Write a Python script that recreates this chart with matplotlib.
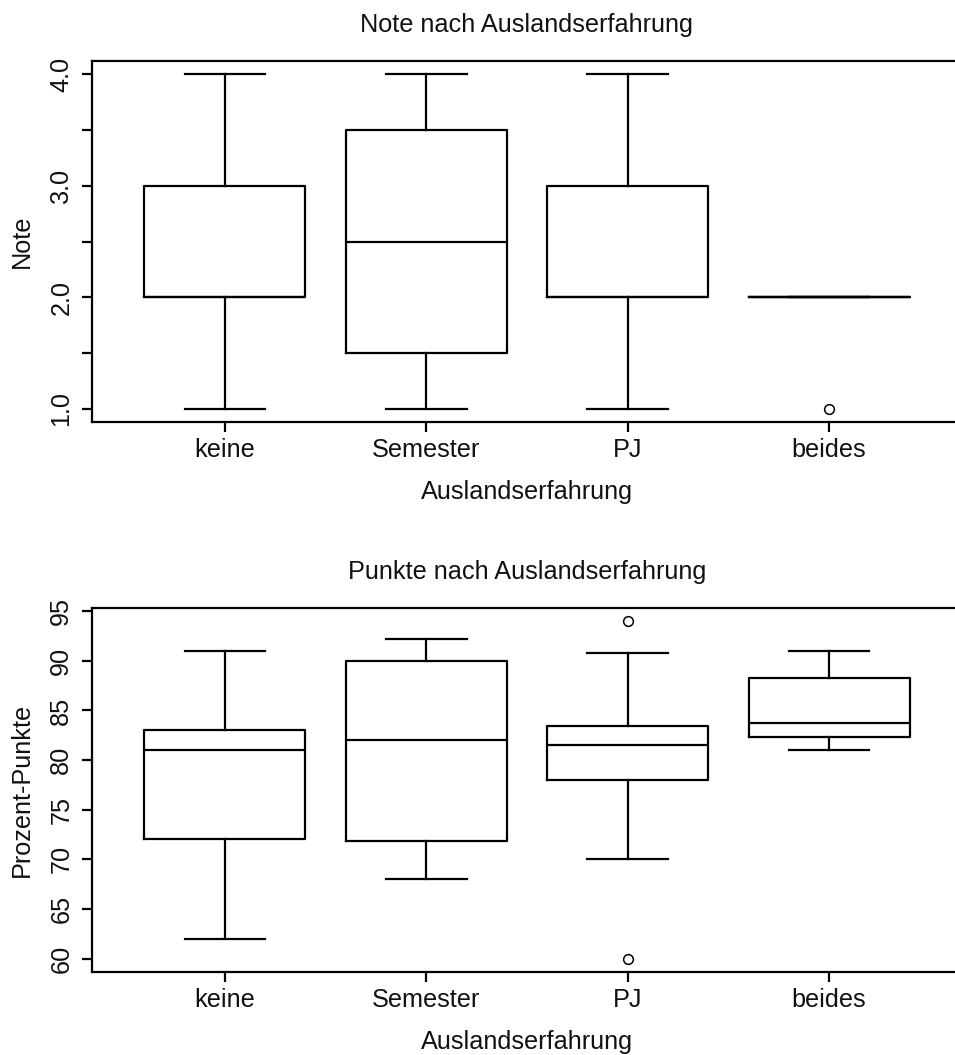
import matplotlib.pyplot as plt

plt.rcParams['font.family'] = ['Liberation Sans', 'DejaVu Sans']

groups = ['keine', 'Semester', 'PJ', 'beides']

# Note nach Auslandserfahrung (Schulnoten)
note_low = [1.0, 1.0, 1.0, 2.0]
note_q1 = [2.0, 1.5, 2.0, 2.0]
note_med = [2.0, 2.5, 2.0, 2.0]
note_q3 = [3.0, 3.5, 3.0, 2.0]
note_high = [4.0, 4.0, 4.0, 2.0]
note_out = [[], [], [], [1.0]]

# Punkte nach Auslandserfahrung (Prozent)
pkt_low = [62.0, 68.0, 70.0, 81.0]
pkt_q1 = [72.0, 71.8, 78.0, 82.3]
pkt_med = [81.0, 82.0, 81.5, 83.7]
pkt_q3 = [83.0, 90.0, 83.4, 88.3]
pkt_high = [91.0, 92.2, 90.8, 91.0]
pkt_out = [[], [], [94.0, 60.0], []]

TXT = '#111111'
FS = 18.2
LW = 1.6


def make_stats(lo, q1, med, q3, hi, out):
    return [dict(whislo=a, q1=b, med=c, q3=d, whishi=e, fliers=f, label=g)
            for a, b, c, d, e, f, g in zip(lo, q1, med, q3, hi, out, groups)]


def r_boxplot(ax, stats, title, ylabel):
    line = dict(color='black', linewidth=LW)
    ax.bxp(stats, positions=[1, 2, 3, 4], widths=0.8, capwidths=0.4,
           boxprops=line, whiskerprops=line, capprops=line, medianprops=line,
           flierprops=dict(marker='o', markersize=7, markerfacecolor='white',
                           markeredgecolor='black', markeredgewidth=1.1))
    ax.set_xlim(0.34, 4.66)
    ax.set_xticks([1, 2, 3, 4], groups)
    for s in ax.spines.values():
        s.set_linewidth(LW)
    ax.tick_params(axis='both', which='both', direction='out', length=7.5,
                   width=LW, colors='black', labelcolor=TXT, labelsize=FS)
    ax.tick_params(axis='x', pad=4)
    ax.tick_params(axis='y', pad=6, labelrotation=90)
    ax.set_title(title, fontsize=FS, color=TXT, pad=21)
    ax.set_xlabel('Auslandserfahrung', fontsize=FS, color=TXT, labelpad=13)
    ax.set_ylabel(ylabel, fontsize=FS, color=TXT, labelpad=11)


fig = plt.figure(figsize=(9.55, 10.55), dpi=100)

ax1 = fig.add_axes([92 / 955, 1 - 422 / 1055, 870 / 955, 361 / 1055])
r_boxplot(ax1, make_stats(note_low, note_q1, note_med, note_q3, note_high, note_out),
          'Note nach Auslandserfahrung', 'Note')
ax1.set_ylim(0.88, 4.12)
ax1.set_yticks([1, 2, 3, 4], ['1.0', '2.0', '3.0', '4.0'])
ax1.set_yticks([1.5, 2.5, 3.5], minor=True)
for t in ax1.get_yticklabels():
    t.set_verticalalignment('center')

ax2 = fig.add_axes([92 / 955, 1 - 972 / 1055, 870 / 955, 364.3 / 1055])
r_boxplot(ax2, make_stats(pkt_low, pkt_q1, pkt_med, pkt_q3, pkt_high, pkt_out),
          'Punkte nach Auslandserfahrung', 'Prozent-Punkte')
ax2.set_ylim(58.64, 95.36)
ax2.set_yticks([60, 65, 70, 75, 80, 85, 90, 95])
for t in ax2.get_yticklabels():
    t.set_verticalalignment('center')

fig.savefig('out.png', dpi=100, facecolor='white')
